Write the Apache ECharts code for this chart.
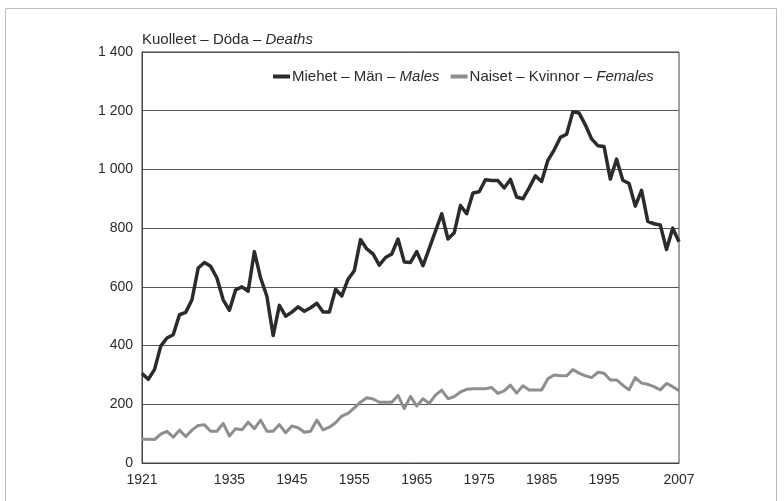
<!DOCTYPE html>
<html>
<head>
<meta charset="utf-8">
<script src="https://cdn.jsdelivr.net/npm/echarts@6/dist/echarts.min.js"></script>
<style>html,body{margin:0;padding:0;background:#fff;}#c{width:784px;height:501px;}</style>
</head>
<body>
<div id="c"></div>
<script>
var years = [];
for (var y = 1921; y <= 2007; y++) years.push(String(y));
var xTickLabels = ['1921','1935','1945','1955','1965','1975','1985','1995','2007'];
var yTicks = [0, 200, 400, 600, 800, 1000, 1200, 1400];

var males = [305,285,318,398,426,437,505,513,556,664,683,670,630,556,520,590,600,585,720,630,
  568,434,537,500,514,532,517,529,544,514,514,592,569,626,655,761,729,712,674,700,
  712,763,685,683,720,672,731,790,849,763,784,877,849,920,924,965,962,962,937,966,
  906,900,937,978,959,1031,1066,1109,1120,1196,1192,1152,1104,1081,1078,967,1035,963,952,875,
  929,823,815,811,727,800,754];
var females = [81,81,80,98,108,88,112,90,112,128,130,108,108,135,92,117,113,139,117,146,
  108,108,131,103,126,120,105,108,146,113,122,137,160,169,188,207,222,218,207,207,
  207,230,185,227,194,219,203,231,248,219,226,242,251,253,253,253,257,237,246,265,
  238,263,249,249,249,287,300,297,297,318,306,297,291,309,306,283,283,265,249,291,
  272,268,260,249,271,260,246];

var FONT = "'Liberation Sans', Arial, sans-serif";
var TXT = '#2a2a2a';
var chart = echarts.init(document.getElementById('c'), null, {renderer: 'canvas'});
chart.setOption({
  backgroundColor: '#ffffff',
  animation: false,
  title: {
    text: '{a|Kuolleet – Döda – }{b|Deaths}',
    left: 142, top: 32, padding: 0,
    textStyle: {
      fontWeight: 'normal',
      rich: {
        a: {fontFamily: FONT, fontSize: 15, color: TXT, fontWeight: 'normal'},
        b: {fontFamily: FONT, fontSize: 15, color: TXT, fontWeight: 'normal', fontStyle: 'italic'}
      }
    }
  },
  legend: {
    left: 273, top: 69, padding: 0,
    icon: 'rect',
    itemWidth: 17, itemHeight: 4, itemGap: 11,
    data: ['Miehet – Män – Males', 'Naiset – Kvinnor – Females'],
    formatter: function (n) {
      var i = n.lastIndexOf('– ');
      return '{a|' + n.slice(0, i + 2) + '}{b|' + n.slice(i + 2) + '}';
    },
    textStyle: {
      padding: [0, 0, 0, -3],
      rich: {
        a: {fontFamily: FONT, fontSize: 15, color: TXT},
        b: {fontFamily: FONT, fontSize: 15, color: TXT, fontStyle: 'italic'}
      }
    }
  },
  graphic: [{
    type: 'rect', shape: {x: 5.5, y: 8.5, width: 771, height: 500},
    style: {fill: 'none', stroke: '#bdbdbd', lineWidth: 1}, silent: true
  }],
  grid: {left: 142, right: 105, top: 52, bottom: 38, show: true, borderColor: '#444', borderWidth: 1},
  xAxis: {
    type: 'category', data: years, boundaryGap: false,
    axisLine: {show: true, lineStyle: {color: '#444', width: 1}},
    axisTick: {show: false},
    splitLine: {show: false},
    axisLabel: {
      interval: function (i, v) { return xTickLabels.indexOf(v) >= 0; },
      fontFamily: FONT, fontSize: 14, color: TXT, margin: 10
    }
  },
  yAxis: {
    type: 'value', min: 0, max: 1400, interval: 200,
    axisLine: {show: true, lineStyle: {color: '#444', width: 1}},
    axisTick: {show: false},
    splitLine: {show: true, lineStyle: {color: '#555', width: 1}},
    axisLabel: {
      fontFamily: FONT, fontSize: 14, color: TXT, margin: 9,
      formatter: function (v) { return String(v).replace(/\B(?=(\d{3})+(?!\d))/g, ' '); }
    }
  },
  series: [
    {
      name: 'Miehet – Män – Males', type: 'line', data: males, symbol: 'none',
      color: '#2b2b2b', lineStyle: {color: '#2b2b2b', width: 3.5, join: 'round'}, z: 3
    },
    {
      name: 'Naiset – Kvinnor – Females', type: 'line', data: females, symbol: 'none',
      color: '#8e8e8e', lineStyle: {color: '#8e8e8e', width: 3, join: 'round'}, z: 2
    }
  ]
});
</script>
</body>
</html>
